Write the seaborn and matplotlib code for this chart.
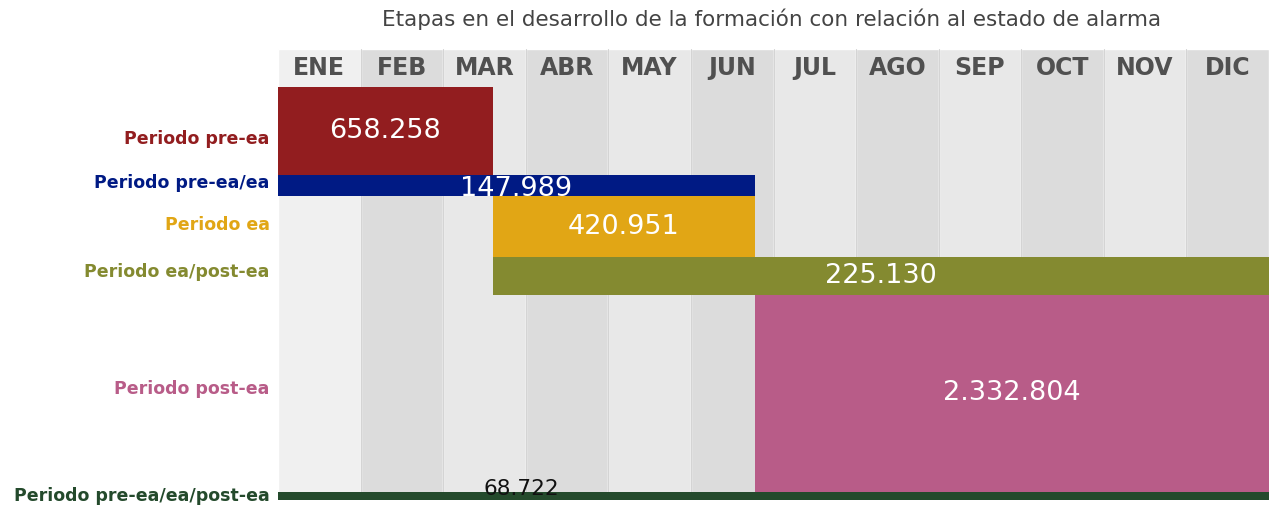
"""
Etapas en el desarrollo de la formación con relación al estado de alarma
Diagrama tipo Gantt con seaborn + matplotlib
"""
import numpy as np
import pandas as pd
import matplotlib
matplotlib.use('Agg')
import matplotlib.pyplot as plt
import seaborn as sns

# datos
meses = ['ENE', 'FEB', 'MAR', 'ABR', 'MAY', 'JUN',
         'JUL', 'AGO', 'SEP', 'OCT', 'NOV', 'DIC']
periodos = ['Periodo pre-ea', 'Periodo pre-ea/ea', 'Periodo ea',
            'Periodo ea/post-ea', 'Periodo post-ea', 'Periodo pre-ea/ea/post-ea']
valores = [658258, 147989, 420951, 225130, 2332804, 68722]
etiquetas = ['658.258', '147.989', '420.951', '225.130', '2.332.804', '68.722']
# inicio y fin en meses (0 = 1 de enero, 12 = 31 de diciembre)
inicio = [0.0, 0.0, 2.6, 2.6, 5.77, 0.0]
fin = [2.6, 5.77, 5.77, 12.0, 12.0, 12.0]

# estilo
grosor = [88, 21, 61, 38, 197, 8]   # grosor de cada barra en px
desfase = [6, -4, -3, -6, -6, -2]   # ajuste vertical de las etiquetas
colores = ['#921d1f', '#001a84', '#e1a615', '#848a30', '#b85c88', '#244a2c']
fondo = ['#f0f0f0'] + ['#dcdcdc' if i % 2 else '#e8e8e8' for i in range(1, 12)]
cabecera = 38

sns.set_theme(style='white')
plt.rcParams['font.family'] = ['DejaVu Sans']

fig = plt.figure(figsize=(12.69, 5.07), dpi=100)
ax = fig.add_axes([278 / 1269, 7 / 507, 991 / 1269, 451 / 507])

alto_total = cabecera + sum(grosor)

# columnas de fondo por mes
df_fondo = pd.DataFrame({'mes': meses, 'alto': [alto_total] * 12})
sns.barplot(data=df_fondo, x='mes', y='alto', hue='mes', palette=fondo,
            width=1.0, legend=False, ax=ax, zorder=0)
for i in range(1, 12):
    ax.axvline(i - 0.5, color='#d4d4d4', lw=0.8, zorder=0.5)

for i, m in enumerate(meses):
    ax.text(i, cabecera / 2, m, ha='center', va='center', fontsize=17,
            color='#505050', fontweight='bold', zorder=5)

# barras del diagrama
y0 = cabecera
centros = []
for k in range(len(periodos)):
    g = grosor[k]
    c = y0 + g / 2
    centros.append(c)
    ax.barh(c, fin[k] - inicio[k], left=inicio[k] - 0.5, height=g,
            color=colores[k], zorder=2 + k * 0.1, linewidth=0)
    y0 += g

for k in range(len(periodos) - 1):
    xm = (inicio[k] + fin[k]) / 2 - 0.5
    dy = 3 if k == 1 else 0
    ax.text(xm, centros[k] + dy, etiquetas[k], ha='center', va='center',
            fontsize=19.5, color='white', zorder=2 + k * 0.1 + 0.05)
# la última barra es muy fina: etiqueta encima
ax.text(2.45, centros[-1] - 7, etiquetas[-1], ha='center', va='center',
        fontsize=15.5, color='#111111', zorder=4)

ax.set_xlim(-0.5, 11.5)
ax.set_ylim(alto_total, 0)
ax.set_xlabel('')
ax.set_ylabel('')
ax.set_xticks([])
ax.set_yticks([c + d for c, d in zip(centros, desfase)])
ax.set_yticklabels(periodos, fontsize=12.5, fontweight='bold')
for lbl, col in zip(ax.get_yticklabels(), colores):
    lbl.set_color(col)
ax.tick_params(axis='y', length=0, pad=6)
for s in ax.spines.values():
    s.set_visible(False)

fig.text(772 / 1269, 1 - 19 / 507,
         'Etapas en el desarrollo de la formación con relación al estado de alarma',
         ha='center', va='center', fontsize=15.5, color='#444444')

plt.savefig('out.png', dpi=100)
